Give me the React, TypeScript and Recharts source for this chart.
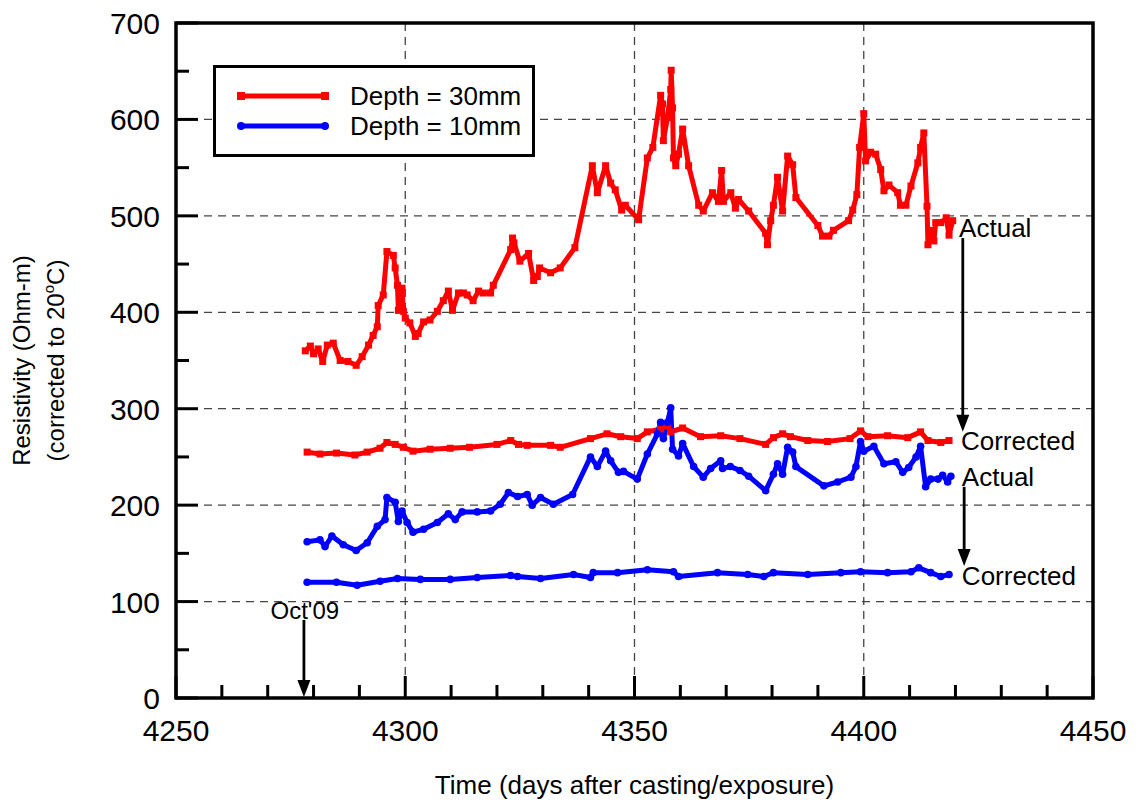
import React from "react"
import {
  CartesianGrid,
  Label,
  Legend,
  Line,
  LineChart,
  ReferenceArea,
  ReferenceDot,
  ReferenceLine,
  XAxis,
  YAxis,
} from "recharts"

const FONT = '"Liberation Sans", Arial, Helvetica, sans-serif'
const RED = "#ff0000"
const BLUE = "#0000ff"

// --- tick values -----------------------------------------------------------
const xTicks = [
  4250, 4260, 4270, 4280, 4290, 4300, 4310, 4320, 4330, 4340, 4350, 4360, 4370,
  4380, 4390, 4400, 4410, 4420, 4430, 4440, 4450,
]
const xMajor = [4250, 4300, 4350, 4400, 4450]
const yTicks = [0, 50, 100, 150, 200, 250, 300, 350, 400, 450, 500, 550, 600, 650, 700]
const yMajor = [0, 100, 200, 300, 400, 500, 600, 700]
const gridX = [4300, 4350, 4400]
const gridY = [100, 200, 300, 400, 500, 600]

// --- depth 30mm, actual ----------------------------------------------------
const d30ActualDays = [
  4278.2, 4279.3, 4280, 4281, 4282, 4283, 4284.3, 4285.8, 4287.5, 4289.3, 4290.6,
  4292, 4293, 4293.9, 4294.1, 4295.2, 4296, 4297.4, 4297.8, 4298.3, 4298.5, 4299.3,
  4299.6, 4300, 4301, 4302.2, 4302.8, 4304, 4305.4, 4307, 4308.3, 4309.4, 4310.3,
  4311.6, 4312.7, 4313.5, 4314.8, 4316, 4317, 4318.6, 4319.2, 4323, 4323.4, 4323.7,
  4325, 4326.9, 4328, 4328.8, 4329.3, 4331.7, 4333.8, 4337, 4340.8, 4341.9, 4343.7,
  4344.8, 4345.8, 4347.2, 4348, 4350.9, 4352.8, 4354, 4355.7, 4356.1, 4356.3, 4357.2,
  4357.9, 4358, 4358.3, 4358.5, 4359, 4359.6, 4360.5, 4361.8, 4364, 4365, 4367,
  4368.3, 4369, 4369.4, 4371, 4372, 4372.7, 4374.9, 4378.6, 4379, 4379.7, 4380.3,
  4381.2, 4382.3, 4383.4, 4384.5, 4385.2, 4390, 4391, 4392.4, 4393.4, 4396.7, 4397.6,
  4398.5, 4399.1, 4400, 4400.4, 4401.5, 4402.6, 4403.7, 4404.4, 4405.5, 4407.4, 4408,
  4409.2, 4410.3, 4411.8, 4412.4, 4413.1, 4413.8, 4414, 4415, 4415.3, 4415.7, 4416.8,
  4418, 4418.6, 4419.4,
]
const d30ActualValues = [
  360, 365, 357, 362, 349, 366, 368, 350, 349, 345, 354,
  366, 376, 385, 407, 418, 463, 459, 446, 428, 402, 425,
  401, 394, 389, 375, 378, 390, 392, 401, 412, 422, 402,
  420, 420, 418, 412, 422, 420, 420, 428, 465, 477, 472,
  453, 461, 433, 437, 446, 441, 446, 467, 552, 524, 552,
  534, 527, 506, 511, 496, 560, 571, 625, 616, 578, 602,
  631, 651, 612, 560, 552, 564, 590, 552, 511, 505, 524,
  515, 547, 515, 524, 508, 517, 505, 482, 470, 495, 511,
  540, 505, 562, 553, 519, 490, 479, 479, 485, 495, 506,
  522, 571, 606, 557, 566, 564, 548, 526, 532, 524, 511,
  511, 531, 555, 571, 586, 510, 470, 485, 474, 493, 493,
  498, 480, 495,
]

// --- depth 30mm, corrected -------------------------------------------------
const d30CorrectedDays = [
  4278.6, 4281.4, 4285, 4289, 4291.7, 4294.5, 4296, 4297.8, 4299.6, 4301.7, 4305.4,
  4309.8, 4314, 4320, 4323, 4324.7, 4326.6, 4331.7, 4333.8, 4340.4, 4344, 4347,
  4350.6, 4352.8, 4355.7, 4357.2, 4357.9, 4360.5, 4364.4, 4368.8, 4373, 4378.6,
  4380.3, 4382.3, 4384, 4387.8, 4392.1, 4397, 4399.3, 4400.9, 4405.2, 4409.6, 4412.4,
  4414, 4416.8, 4418.6,
]
const d30CorrectedValues = [
  255, 253, 254, 252, 255, 259, 265, 263, 260, 256, 258,
  259, 260, 263, 267, 263, 262, 262, 260, 269, 274, 271,
  269, 276, 279, 282, 276, 280, 271, 272, 269, 263,
  270, 274, 271, 267, 266, 269, 277, 271, 272, 270, 276,
  267, 265, 267,
]

// --- depth 10mm, actual ----------------------------------------------------
const d10ActualDays = [
  4278.6, 4281.4, 4282.5, 4284, 4286.5, 4289.3, 4291.7, 4293.9, 4295.6, 4296, 4297.8,
  4298.5, 4299.3, 4300.4, 4301.7, 4304, 4307, 4309.4, 4310.9, 4312.4, 4315.7, 4318.6,
  4320.7, 4322.5, 4324.5, 4326.6, 4327.7, 4329.5, 4332.3, 4336.5, 4340.4, 4341.9,
  4343.7, 4344.8, 4346.5, 4347.6, 4350.6, 4352.8, 4355, 4355.7, 4356.3, 4357.2, 4357.9,
  4358.3, 4359.6, 4360.5, 4362.9, 4365, 4366.6, 4368.8, 4369.2, 4370.9, 4373, 4374.9,
  4378.6, 4380.3, 4381.2, 4382.3, 4383.4, 4384.5, 4385.2, 4391.3, 4394.3, 4397.2,
  4398.3, 4399.3, 4400, 4402.2, 4404.4, 4407, 4408.5, 4409.8, 4411.4, 4412.4, 4413.5,
  4414.6, 4416.2, 4417.2, 4418.3, 4419,
]
const d10ActualValues = [
  162, 164, 157, 168, 159, 153, 161, 178, 185, 208, 203,
  183, 194, 182, 172, 175, 182, 191, 185, 193, 193, 194,
  201, 213, 209, 211, 200, 208, 201, 211, 250, 240,
  256, 246, 234, 235, 227, 253, 274, 286, 269, 286, 301,
  258, 251, 264, 240, 229, 238, 246, 238, 240, 236, 230,
  215, 232, 243, 232, 260, 255, 240, 220, 224, 229,
  240, 266, 256, 261, 243, 245, 234, 239, 250, 261, 219,
  227, 227, 231, 224, 230,
]

// --- depth 10mm, corrected -------------------------------------------------
const d10CorrectedDays = [
  4278.6, 4285, 4289.5, 4294.5, 4298.3, 4303.3, 4309.8, 4315.7, 4323, 4324.5, 4329.5,
  4336.7, 4340.4, 4341, 4346.3, 4352.8, 4358.5, 4359.6, 4368.1, 4374.7, 4378.2,
  4380.3, 4387.8, 4395, 4399.3, 4405.2, 4410.3, 4412, 4414.6, 4416.8, 4418.6,
]
const d10CorrectedValues = [
  120, 120, 117, 121, 124, 123, 123, 125, 127, 126, 124,
  128, 125, 130, 130, 133, 131, 126, 130, 128, 126,
  130, 128, 130, 131, 130, 131, 135, 130, 126, 128,
]

// text annotations: [day, value, text, anchor]
const labels: [number, number, string, "start" | "middle"][] = [
  [4420.8, 487, "Actual", "start"],
  [4421.2, 267, "Corrected", "start"],
  [4421.4, 229, "Actual", "start"],
  [4421.4, 127, "Corrected", "start"],
  [4278.1, 91, "Oct'09", "middle"],
]
// arrows: [day, fromValue, toValue]
const arrows: [number, number, number][] = [
  [4421.6, 477, 276],
  [4421.9, 219, 137],
  [4277.9, 81, 1],
]

const toPoints = (days: number[], vals: number[]) =>
  days.map((d, i) => ({ d, v: vals[i] }))

const series = [
  { key: "a30", data: toPoints(d30ActualDays, d30ActualValues), color: RED, square: true },
  { key: "c30", data: toPoints(d30CorrectedDays, d30CorrectedValues), color: RED, square: true },
  { key: "a10", data: toPoints(d10ActualDays, d10ActualValues), color: BLUE, square: false },
  { key: "c10", data: toPoints(d10CorrectedDays, d10CorrectedValues), color: BLUE, square: false },
]

const legendItems = [
  { name: "Depth = 30mm", color: RED, square: true },
  { name: "Depth = 10mm", color: BLUE, square: false },
]

const tickStroke = { stroke: "#000", strokeWidth: 3 }
const MAJOR = 22
const MINOR = 13

function SquareDot(p: any) {
  if (p.cx == null || p.cy == null) return null
  return <rect x={p.cx - 3.5} y={p.cy - 3.5} width={7} height={7} fill={p.stroke} />
}
function RoundDot(p: any) {
  if (p.cx == null || p.cy == null) return null
  return <circle cx={p.cx} cy={p.cy} r={3.8} fill={p.stroke} />
}

function BottomTick(p: any) {
  const { x, y, payload } = p
  const major = xMajor.includes(payload.value)
  return (
    <g>
      <line x1={x} x2={x} y1={y} y2={y - (major ? MAJOR : MINOR)} {...tickStroke} />
      {major && (
        <text x={x} y={y + 43} textAnchor="middle" fontSize={30} fontFamily={FONT} fill="#000">
          {payload.value}
        </text>
      )}
    </g>
  )
}
function TopTick(p: any) {
  const { x, y, payload } = p
  const major = xMajor.includes(payload.value)
  return <line x1={x} x2={x} y1={y} y2={y + (major ? MAJOR : MINOR)} {...tickStroke} />
}
function LeftTick(p: any) {
  const { x, y, payload } = p
  const major = yMajor.includes(payload.value)
  return (
    <g>
      <line x1={x} x2={x + (major ? MAJOR : MINOR)} y1={y} y2={y} {...tickStroke} />
      {major && (
        <text x={x - 16} y={y + 11} textAnchor="end" fontSize={30} fontFamily={FONT} fill="#000">
          {payload.value}
        </text>
      )}
    </g>
  )
}
function RightTick(p: any) {
  const { x, y, payload } = p
  const major = yMajor.includes(payload.value)
  return <line x1={x} x2={x - (major ? MAJOR : MINOR)} y1={y} y2={y} {...tickStroke} />
}

function Arrow(p: any) {
  const { x1, y1, x2, y2 } = p
  const head = 17
  const half = 6.5
  return (
    <g>
      <line x1={x1} y1={y1} x2={x2} y2={y2 - head + 2} stroke="#000" strokeWidth={2.8} />
      <polygon points={`${x2},${y2} ${x2 - half},${y2 - head} ${x2 + half},${y2 - head}`} fill="#000" />
    </g>
  )
}

function YLabel(p: any) {
  const vb = p.viewBox || { x: 106, y: 23, width: 70, height: 675 }
  const cy = vb.y + vb.height / 2
  const style = { fontSize: 24, fontFamily: FONT, fill: "#000" }
  return (
    <g>
      <text x={30} y={cy} transform={`rotate(-90, 30, ${cy})`} textAnchor="middle" {...style}>
        Resistivity (Ohm-m)
      </text>
      <text x={64} y={cy} transform={`rotate(-90, 64, ${cy})`} textAnchor="middle" {...style}>
        (corrected to 20
        <tspan fontSize={15} dy={-10}>o</tspan>
        <tspan dy={10}>C)</tspan>
      </text>
    </g>
  )
}

function XLabel(p: any) {
  const vb = p.viewBox || { x: 176, y: 698, width: 917, height: 50 }
  return (
    <text x={vb.x + vb.width / 2} y={794} textAnchor="middle" fontSize={26} fontFamily={FONT} fill="#000">
      Time (days after casting/exposure)
    </text>
  )
}

function LegendBox() {
  return (
    <div
      style={{
        width: 322,
        height: 92,
        boxSizing: "border-box",
        border: "3px solid #000",
        background: "#fff",
      }}
    >
      <svg width={316} height={86} style={{ display: "block" }}>
        {legendItems.map((it, i) => {
          const y = 28 + i * 30
          return (
            <g key={it.name}>
              <line x1={25} x2={109} y1={y} y2={y} stroke={it.color} strokeWidth={5} />
              {it.square ? (
                <>
                  <rect x={21} y={y - 4} width={8} height={8} fill={it.color} />
                  <rect x={105} y={y - 4} width={8} height={8} fill={it.color} />
                </>
              ) : (
                <>
                  <circle cx={25} cy={y} r={4} fill={it.color} />
                  <circle cx={109} cy={y} r={4} fill={it.color} />
                </>
              )}
              <text x={134} y={y + 9} fontSize={26} fontFamily={FONT} fill="#000">
                {it.name}
              </text>
            </g>
          )
        })}
      </svg>
    </div>
  )
}

export default function App() {
  return (
    <div style={{ position: "absolute", left: 0, top: 0, background: "#fff" }}>
      <LineChart
        width={1140}
        height={805}
        margin={{ top: 23, right: 47, bottom: 57, left: 106 }}
      >
        <CartesianGrid
          xAxisId="b"
          yAxisId="l"
          horizontalValues={gridY}
          verticalValues={gridX}
          stroke="#444"
          strokeWidth={1.3}
          strokeDasharray="8 6"
        />
        <XAxis
          xAxisId="b"
          dataKey="d"
          type="number"
          domain={[4250, 4450]}
          allowDataOverflow
          ticks={xTicks}
          interval={0}
          height={50}
          axisLine={false}
          tickLine={false}
          tickSize={0}
          tickMargin={0}
          tick={<BottomTick />}
        >
          <Label content={<XLabel />} />
        </XAxis>
        <XAxis
          xAxisId="t"
          orientation="top"
          dataKey="d"
          type="number"
          domain={[4250, 4450]}
          allowDataOverflow
          ticks={xTicks}
          interval={0}
          height={0}
          axisLine={false}
          tickLine={false}
          tickSize={0}
          tickMargin={0}
          tick={<TopTick />}
        />
        <YAxis
          yAxisId="l"
          type="number"
          domain={[0, 700]}
          allowDataOverflow
          ticks={yTicks}
          interval={0}
          width={70}
          axisLine={false}
          tickLine={false}
          tickSize={0}
          tickMargin={0}
          tick={<LeftTick />}
        >
          <Label content={<YLabel />} />
        </YAxis>
        <YAxis
          yAxisId="r"
          orientation="right"
          type="number"
          domain={[0, 700]}
          allowDataOverflow
          ticks={yTicks}
          interval={0}
          width={0}
          axisLine={false}
          tickLine={false}
          tickSize={0}
          tickMargin={0}
          tick={<RightTick />}
        />
        <ReferenceArea
          xAxisId="b"
          yAxisId="l"
          x1={4250}
          x2={4450}
          y1={0}
          y2={700}
          fill="none"
          fillOpacity={0}
          stroke="#000"
          strokeWidth={3.5}
          ifOverflow="visible"
        />
        {series.map((s) => (
          <Line
            key={s.key}
            xAxisId="b"
            yAxisId="l"
            data={s.data}
            dataKey="v"
            type="linear"
            stroke={s.color}
            strokeWidth={5}
            strokeLinejoin="round"
            dot={s.square ? <SquareDot /> : <RoundDot />}
            activeDot={false}
            legendType="none"
            isAnimationActive={false}
          />
        ))}
        {arrows.map(([d, from, to], i) => (
          <ReferenceLine
            key={`arrow-${i}`}
            xAxisId="b"
            yAxisId="l"
            segment={[
              { x: d, y: from },
              { x: d, y: to },
            ]}
            ifOverflow="visible"
            shape={Arrow}
          />
        ))}
        {labels.map(([d, v, text, anchor], i) => (
          <ReferenceDot
            key={`lbl-${i}`}
            xAxisId="b"
            yAxisId="l"
            x={d}
            y={v}
            r={0}
            ifOverflow="visible"
            shape={(p: any) => (
              <text
                x={p.cx}
                y={p.cy + 9}
                textAnchor={anchor}
                fontSize={i === 4 ? 24 : 26}
                fontFamily={FONT}
                fill="#000"
              >
                {text}
              </text>
            )}
          />
        ))}
        <Legend
          layout="horizontal"
          verticalAlign="middle"
          align="center"
          content={() => <LegendBox />}
          wrapperStyle={{ left: 213, top: 65, width: 322, height: 92 }}
        />
      </LineChart>
    </div>
  )
}
